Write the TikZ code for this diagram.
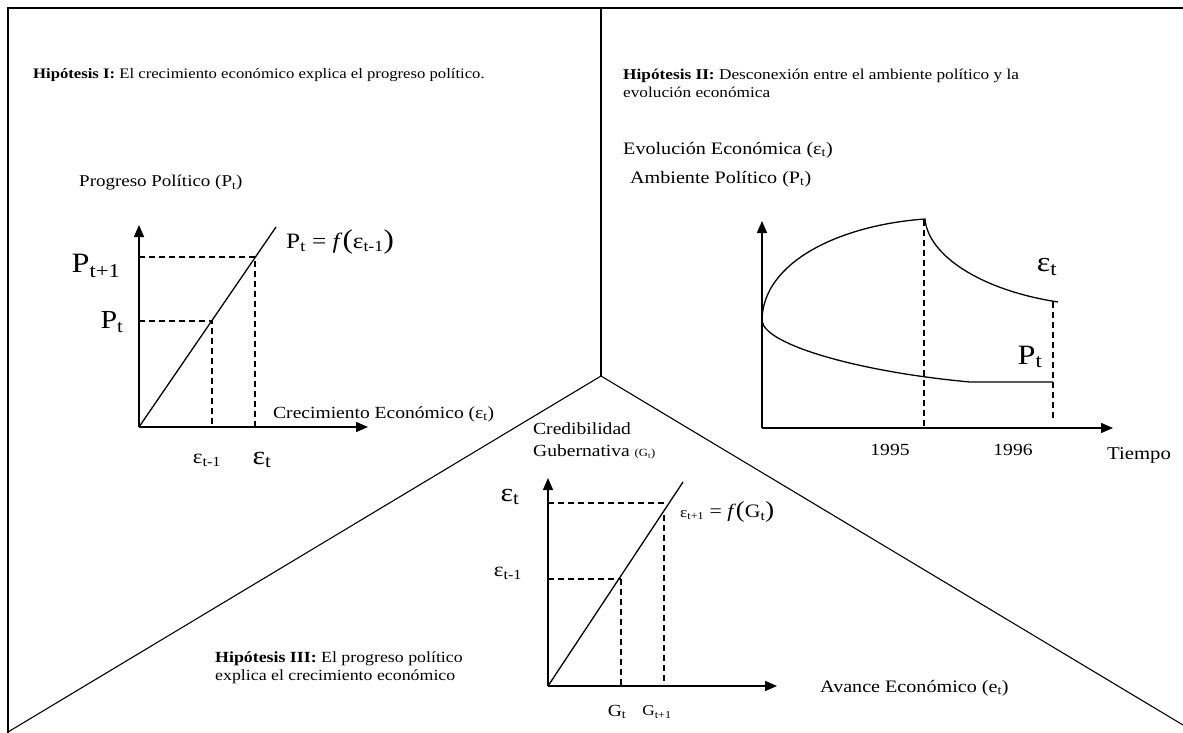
\documentclass[tikz,border=0pt]{standalone}
\usepackage{fontspec}
\setmainfont[FakeStretch=1.15]{Liberation Serif}
\usetikzlibrary{arrows.meta}
\newcommand{\sbs}[1]{\textsubscript{#1}}
\newcommand{\fs}[1]{\fontsize{#1}{#1}\selectfont}
\begin{document}
\begin{tikzpicture}[x=1pt,y=-1pt,
  frame/.style={line width=1.5pt},
  divider/.style={line width=1.1pt},
  axis/.style={line width=1.5pt,-{Triangle[length=12pt,width=10pt]}},
  guide/.style={line width=1.2pt,dash pattern=on 6pt off 4pt},
  curve/.style={line width=1.3pt},
  txt/.style={inner sep=0pt,anchor=west,font=\fs{14.5}},
  lbl/.style={inner sep=0pt,font=\fs{17}},
  big/.style={inner sep=0pt,font=\fs{26}}]
\useasboundingbox (0,0) rectangle (1183,733);
% frame and dividers
\coordinate (tl) at (8,8);
\coordinate (tr) at (1183,8);
\coordinate (bl) at (8,733);
\coordinate (top) at (601,8);
\coordinate (ctr) at (601,376);
\coordinate (dl) at (8,732);
\coordinate (dr) at (1183,725);
\draw[frame] (bl) -- (tl) -- (tr);
\draw[divider] (top) -- (ctr);
\draw[divider] (dl) -- (ctr) -- (dr);

% ---------- Hypothesis I ----------
\node[txt] (h1) at (33,75) {\textbf{Hipótesis I:} El crecimiento económico explica el progreso político.};
\coordinate (o1) at (139,427);
\coordinate (y1) at (139,225);
\coordinate (x1) at (368,427);
\coordinate (l1) at (276,227);
\coordinate (a1) at (255,257);
\coordinate (b1) at (212,321);
\coordinate (a1y) at (139,257);
\coordinate (b1y) at (139,321);
\coordinate (a1x) at (255,427);
\coordinate (b1x) at (212,427);
\draw[axis] (o1) -- (y1);
\draw[axis] (o1) -- (x1);
\draw[curve] (o1) -- (l1);
\draw[guide] (a1y) -- (a1) -- (a1x);
\draw[guide] (b1y) -- (b1) -- (b1x);
\node[lbl,anchor=west,font=\fs{16.5}] (prog) at (79,183) {Progreso Político (P\sbs{t})};
\node[lbl,anchor=west,font=\fs{22}] (eq1) at (286,242) {P\sbs{t} = \textit{f}{\fs{27}(}ε\sbs{t-1}{\fs{27})}};
\node[big,font=\fs{28}] (pt1) at (96,266) {P\sbs{t+1}};
\node[big] (pt) at (112,322) {P\sbs{t}};
\node[lbl,font=\fs{20}] (et1) at (207,460) {ε\sbs{t-1}};
\node[big] (et) at (262,460) {ε\sbs{t}};
\node[lbl,anchor=west] (crec) at (273,414) {Crecimiento Económico (ε\sbs{t})};

% ---------- Hypothesis II ----------
\node[txt,align=left,anchor=north west,font=\fs{15}] (h2) at (623,69) {\textbf{Hipótesis II:} Desconexión entre el ambiente político y la\\[3pt]evolución económica};
\node[lbl,anchor=west,font=\fs{17.5}] (evol) at (623,150) {Evolución Económica (ε\sbs{t})};
\node[lbl,anchor=west,font=\fs{17.5}] (amb) at (630,179) {Ambiente Político (P\sbs{t})};
\coordinate (o2) at (762,428);
\coordinate (y2) at (762,221);
\coordinate (x2) at (1113,428);
\coordinate (s2) at (762,321);
\coordinate (pk) at (925,219);
\coordinate (e2) at (1058,302);
\coordinate (p2a) at (970,382);
\coordinate (p2b) at (1053,382);
\coordinate (d95t) at (924,220);
\coordinate (d95b) at (924,428);
\coordinate (d96t) at (1053,302);
\coordinate (d96b) at (1053,418);
\draw[axis] (o2) -- (y2);
\draw[axis] (o2) -- (x2);
\draw[curve] (s2) .. controls (762,262) and (840,225) .. (pk)
                  .. controls (928,255) and (980,290) .. (e2);
\draw[curve] (s2) .. controls (765,345) and (860,372) .. (p2a) -- (p2b);
\draw[guide] (d95t) -- (d95b);
\draw[guide] (d96t) -- (d96b);
\node[big,font=\fs{28}] (et2) at (1047,267) {ε\sbs{t}};
\node[big,font=\fs{28}] (pt2) at (1030,357) {P\sbs{t}};
\node[lbl] (y95) at (890,450) {1995};
\node[lbl] (y96) at (1013,450) {1996};
\node[lbl,font=\fs{18}] (tiempo) at (1139,455) {Tiempo};

% ---------- Hypothesis III ----------
\node[txt,align=left,anchor=north west,font=\fs{15.5}] (h3) at (215,652) {\textbf{Hipótesis III:} El progreso político\\[2pt]explica el crecimiento económico};
\node[lbl,anchor=west] (cred) at (533,429) {Credibilidad};
\node[lbl,anchor=west] (gub) at (533,452) {Gubernativa {\fs{11}(G\sbs{t})}};
\coordinate (o3) at (548,686);
\coordinate (y3) at (548,478);
\coordinate (x3) at (777,686);
\coordinate (l3) at (683,482);
\coordinate (a3y) at (548,503);
\coordinate (a3e) at (668,503);
\coordinate (a3t) at (664,515);
\coordinate (a3x) at (664,686);
\coordinate (b3y) at (548,579);
\coordinate (b3) at (621,579);
\coordinate (b3x) at (621,686);
\draw[axis] (o3) -- (y3);
\draw[axis] (o3) -- (x3);
\draw[curve] (o3) -- (l3);
\draw[guide] (a3y) -- (a3e);
\draw[guide] (a3t) -- (a3x);
\draw[guide,line width=1.7pt] (b3y) -- (b3);
\draw[guide] (b3) -- (b3x);
\node[big] (et3) at (510,497) {ε\sbs{t}};
\node[lbl,font=\fs{20}] (et31) at (508,573) {ε\sbs{t-1}};
\node[lbl,anchor=west,font=\fs{19}] (eq3) at (680,512) {{\fs{15}ε\sbs{t+1}} = \textit{f}{\fs{23}(}G\sbs{t}{\fs{23})}};
\node[lbl,font=\fs{17}] (g1) at (617,712) {G\sbs{t}};
\node[lbl,font=\fs{15}] (g2) at (657,712) {G\sbs{t+1}};
\node[lbl,anchor=west,font=\fs{17.5}] (avance) at (820,688) {Avance Económico (e\sbs{t})};
\end{tikzpicture}
\end{document}
